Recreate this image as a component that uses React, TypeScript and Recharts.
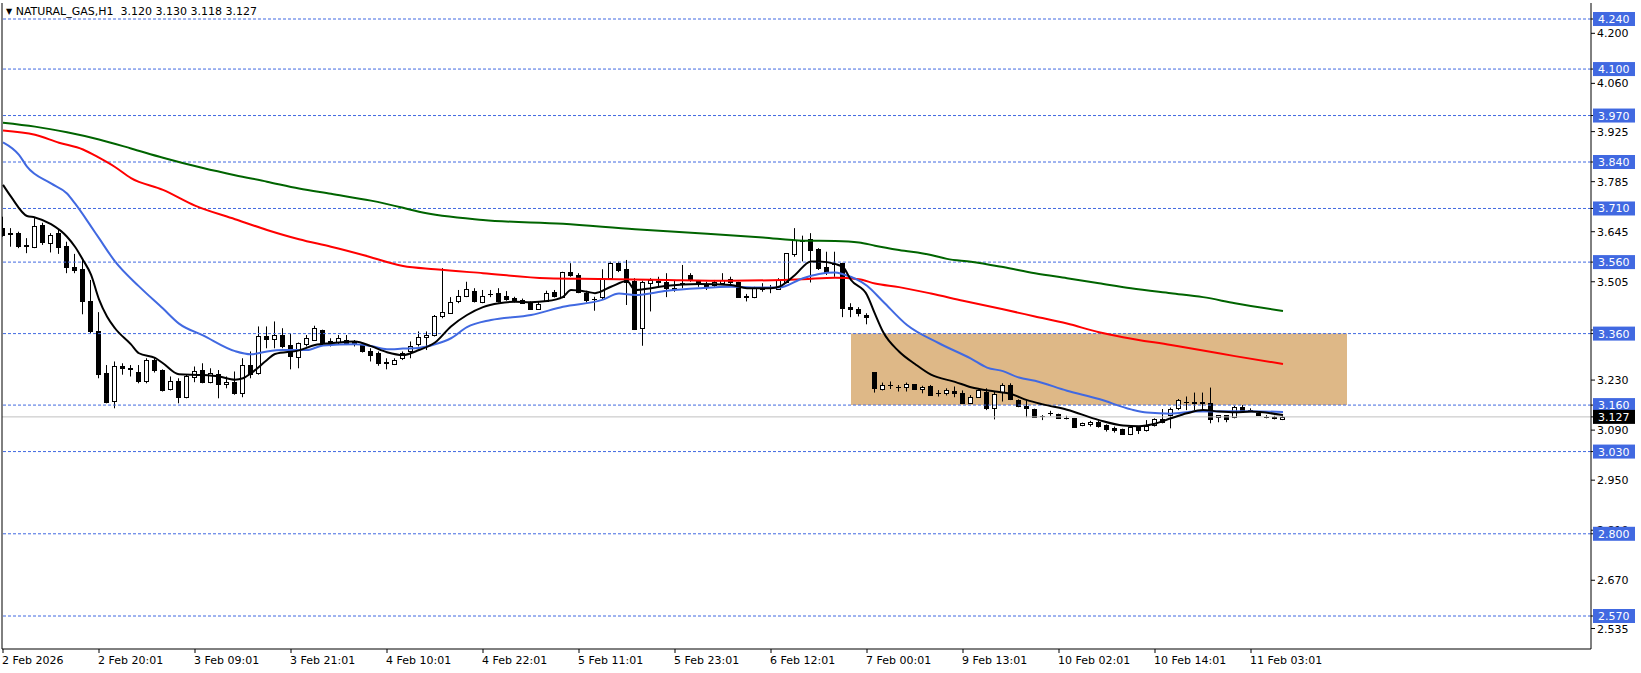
import { ComposedChart, Bar, Line, XAxis, YAxis, ReferenceLine, ReferenceArea } from 'recharts'

// H1 candles, bar 0 = 2 Feb 2026 00:01
const opens = [
  3.655, 3.642, 3.641, 3.607, 3.601, 3.664, 3.613, 3.641, 3.605, 3.546,
  3.540, 3.451, 3.368, 3.249, 3.172, 3.270, 3.263, 3.252, 3.226, 3.286,
  3.258, 3.204, 3.228, 3.182, 3.238, 3.257, 3.224, 3.246, 3.219, 3.224,
  3.193, 3.272, 3.249, 3.352, 3.344, 3.356, 3.327, 3.294, 3.330, 3.342,
  3.370, 3.338, 3.336, 3.342, 3.336, 3.327, 3.310, 3.305, 3.280, 3.274,
  3.291, 3.312, 3.331, 3.350, 3.356, 3.408, 3.417, 3.450, 3.465, 3.480,
  3.447, 3.472, 3.473, 3.466, 3.459, 3.453, 3.445, 3.430, 3.452, 3.475,
  3.462, 3.531, 3.524, 3.473, 3.458, 3.462, 3.515, 3.557, 3.540, 3.507,
  3.375, 3.501, 3.506, 3.505, 3.488, 3.500, 3.524, 3.507, 3.498, 3.496,
  3.501, 3.512, 3.504, 3.464, 3.463, 3.487, 3.487, 3.485, 3.503, 3.583,
  3.619, 3.625, 3.598, 3.545, 3.556, 3.557, 3.435, 3.429, 3.412, 3.252,
  3.205, 3.217, 3.212, 3.212, 3.218, 3.205, 3.214, 3.195, 3.193, 3.200,
  3.193, 3.165, 3.184, 3.198, 3.151, 3.196, 3.216, 3.174, 3.157, 3.149,
  3.130, 3.137, 3.134, 3.125, 3.123, 3.103, 3.107, 3.112, 3.104, 3.097,
  3.092, 3.079, 3.098, 3.090, 3.104, 3.120, 3.132, 3.151, 3.169, 3.168,
  3.170, 3.167, 3.126, 3.131, 3.126, 3.154, 3.147, 3.137, 3.128, 3.126,
  3.120,
]
const highs = [
  3.687, 3.655, 3.645, 3.627, 3.683, 3.670, 3.641, 3.650, 3.617, 3.583,
  3.566, 3.510, 3.420, 3.272, 3.282, 3.277, 3.272, 3.272, 3.291, 3.291,
  3.260, 3.240, 3.235, 3.245, 3.268, 3.277, 3.263, 3.258, 3.240, 3.254,
  3.291, 3.310, 3.380, 3.380, 3.394, 3.375, 3.361, 3.335, 3.356, 3.382,
  3.371, 3.347, 3.356, 3.356, 3.342, 3.328, 3.319, 3.310, 3.291, 3.291,
  3.310, 3.338, 3.366, 3.366, 3.412, 3.543, 3.462, 3.482, 3.505, 3.487,
  3.482, 3.482, 3.487, 3.479, 3.463, 3.458, 3.450, 3.450, 3.480, 3.482,
  3.533, 3.557, 3.529, 3.480, 3.463, 3.540, 3.561, 3.561, 3.566, 3.515,
  3.508, 3.515, 3.519, 3.529, 3.510, 3.552, 3.529, 3.510, 3.505, 3.510,
  3.529, 3.519, 3.505, 3.471, 3.491, 3.501, 3.496, 3.515, 3.585, 3.655,
  3.634, 3.641, 3.599, 3.589, 3.589, 3.558, 3.445, 3.434, 3.417, 3.252,
  3.223, 3.226, 3.216, 3.223, 3.219, 3.214, 3.216, 3.202, 3.207, 3.212,
  3.201, 3.188, 3.204, 3.207, 3.198, 3.221, 3.221, 3.176, 3.174, 3.150,
  3.132, 3.144, 3.136, 3.130, 3.124, 3.111, 3.116, 3.116, 3.106, 3.100,
  3.094, 3.100, 3.100, 3.118, 3.123, 3.149, 3.153, 3.177, 3.184, 3.195,
  3.195, 3.209, 3.132, 3.132, 3.158, 3.160, 3.151, 3.139, 3.132, 3.130,
  3.130,
]
const lows = [
  3.631, 3.603, 3.599, 3.585, 3.599, 3.608, 3.587, 3.583, 3.529, 3.529,
  3.414, 3.361, 3.235, 3.165, 3.151, 3.245, 3.240, 3.221, 3.221, 3.251,
  3.198, 3.201, 3.165, 3.179, 3.224, 3.221, 3.221, 3.179, 3.207, 3.189,
  3.182, 3.235, 3.245, 3.319, 3.319, 3.319, 3.260, 3.263, 3.324, 3.340,
  3.328, 3.324, 3.328, 3.328, 3.324, 3.307, 3.282, 3.270, 3.260, 3.272,
  3.286, 3.291, 3.324, 3.314, 3.352, 3.403, 3.415, 3.445, 3.462, 3.447,
  3.445, 3.462, 3.447, 3.452, 3.447, 3.443, 3.426, 3.428, 3.452, 3.461,
  3.459, 3.519, 3.473, 3.447, 3.424, 3.454, 3.510, 3.532, 3.440, 3.370,
  3.326, 3.422, 3.491, 3.462, 3.477, 3.487, 3.505, 3.491, 3.482, 3.491,
  3.496, 3.491, 3.462, 3.450, 3.459, 3.477, 3.473, 3.482, 3.501, 3.575,
  3.562, 3.503, 3.538, 3.524, 3.519, 3.406, 3.406, 3.408, 3.386, 3.195,
  3.201, 3.205, 3.198, 3.198, 3.204, 3.193, 3.187, 3.184, 3.187, 3.182,
  3.163, 3.163, 3.182, 3.146, 3.120, 3.170, 3.174, 3.154, 3.126, 3.124,
  3.118, 3.130, 3.121, 3.120, 3.099, 3.101, 3.100, 3.097, 3.086, 3.083,
  3.077, 3.076, 3.079, 3.086, 3.100, 3.109, 3.095, 3.146, 3.146, 3.146,
  3.145, 3.109, 3.112, 3.112, 3.123, 3.142, 3.141, 3.130, 3.123, 3.120,
  3.118,
]
const closes = [
  3.636, 3.640, 3.605, 3.605, 3.661, 3.615, 3.636, 3.601, 3.546, 3.538,
  3.450, 3.368, 3.246, 3.170, 3.268, 3.263, 3.260, 3.226, 3.287, 3.257,
  3.203, 3.227, 3.184, 3.240, 3.256, 3.224, 3.249, 3.218, 3.225, 3.193,
  3.272, 3.247, 3.354, 3.346, 3.356, 3.324, 3.298, 3.333, 3.347, 3.377,
  3.333, 3.335, 3.347, 3.333, 3.333, 3.310, 3.299, 3.277, 3.279, 3.286,
  3.305, 3.326, 3.350, 3.356, 3.408, 3.420, 3.447, 3.465, 3.484, 3.452,
  3.466, 3.470, 3.450, 3.457, 3.450, 3.445, 3.430, 3.442, 3.473, 3.466,
  3.531, 3.524, 3.476, 3.454, 3.456, 3.515, 3.557, 3.538, 3.505, 3.372,
  3.504, 3.510, 3.504, 3.487, 3.486, 3.502, 3.510, 3.498, 3.490, 3.505,
  3.510, 3.504, 3.463, 3.463, 3.487, 3.486, 3.488, 3.510, 3.585, 3.622,
  3.621, 3.594, 3.543, 3.533, 3.555, 3.433, 3.428, 3.417, 3.407, 3.207,
  3.215, 3.216, 3.211, 3.218, 3.205, 3.210, 3.188, 3.194, 3.201, 3.193,
  3.167, 3.184, 3.201, 3.151, 3.191, 3.216, 3.176, 3.158, 3.151, 3.126,
  3.129, 3.138, 3.123, 3.124, 3.100, 3.109, 3.114, 3.102, 3.092, 3.090,
  3.079, 3.098, 3.089, 3.102, 3.120, 3.112, 3.149, 3.174, 3.170, 3.167,
  3.165, 3.121, 3.131, 3.121, 3.156, 3.144, 3.146, 3.132, 3.127, 3.125,
  3.127,
]

// moving averages: [bar, price]
const blackMa = [
  [0, 3.776], [1, 3.743], [3, 3.689], [4, 3.685], [6, 3.666], [8, 3.631], [9, 3.603], [10, 3.566],
  [11, 3.525], [12, 3.456], [13, 3.408], [14, 3.375], [16, 3.330], [17, 3.305], [19, 3.292], [20, 3.277],
  [22, 3.246], [25, 3.244], [27, 3.240], [29, 3.231], [30, 3.235], [31, 3.249], [33, 3.286], [34, 3.303],
  [37, 3.313], [39, 3.328], [41, 3.333], [44, 3.338], [46, 3.325], [48, 3.308], [50, 3.300], [52, 3.314],
  [54, 3.335], [56, 3.380], [58, 3.412], [60, 3.434], [62, 3.445], [64, 3.449], [66, 3.448], [68, 3.451],
  [70, 3.463], [71, 3.482], [73, 3.477], [74, 3.473], [76, 3.491], [78, 3.507], [79, 3.482], [81, 3.487],
  [83, 3.494], [87, 3.499], [91, 3.496], [93, 3.487], [96, 3.487], [97, 3.491], [99, 3.524], [101, 3.562],
  [102, 3.562], [104, 3.555], [105, 3.546], [106, 3.510], [108, 3.468], [109, 3.415], [110, 3.365], [112, 3.310],
  [114, 3.275], [116, 3.245], [119, 3.225], [121, 3.210], [124, 3.198], [126, 3.191], [128, 3.174], [130, 3.162],
  [133, 3.147], [137, 3.118], [140, 3.103], [142, 3.101], [144, 3.108], [146, 3.123], [148, 3.137], [150, 3.146],
  [152, 3.142], [154, 3.140], [156, 3.142], [160, 3.132],
]
const blueMa = [
  [0, 3.895], [2, 3.860], [3, 3.827], [6, 3.780], [8, 3.752], [9, 3.724], [11, 3.660], [12, 3.627],
  [14, 3.562], [17, 3.492], [20, 3.430], [22, 3.388], [25, 3.355], [29, 3.311], [31, 3.302], [33, 3.310],
  [35, 3.314], [38, 3.314], [40, 3.327], [44, 3.330], [46, 3.325], [48, 3.316], [50, 3.318], [52, 3.320],
  [54, 3.330], [56, 3.347], [58, 3.378], [61, 3.398], [66, 3.412], [70, 3.435], [75, 3.455], [77, 3.472],
  [79, 3.468], [83, 3.480], [87, 3.487], [91, 3.491], [95, 3.489], [97, 3.489], [100, 3.515], [102, 3.527],
  [104, 3.531], [105, 3.526], [108, 3.494], [110, 3.450], [113, 3.384], [117, 3.333], [121, 3.290], [123, 3.265],
  [125, 3.255], [127, 3.237], [129, 3.228], [133, 3.200], [137, 3.177], [141, 3.148], [143, 3.139], [146, 3.136],
  [149, 3.142], [154, 3.143], [160, 3.141],
]
const redMa = [
  [0, 3.928], [4, 3.916], [7, 3.894], [10, 3.875], [12, 3.852], [14, 3.826], [16, 3.795], [20, 3.762],
  [24, 3.718], [29, 3.680], [33, 3.650], [37, 3.624], [41, 3.603], [45, 3.580], [50, 3.549], [54, 3.540],
  [60, 3.529], [68, 3.515], [75, 3.513], [83, 3.510], [91, 3.508], [100, 3.512], [104, 3.516], [107, 3.512],
  [109, 3.500], [112, 3.490], [116, 3.472], [120, 3.452], [125, 3.428], [129, 3.408], [133, 3.388], [137, 3.364],
  [140, 3.350], [146, 3.328], [150, 3.313], [154, 3.297], [160, 3.275],
]
const greenMa = [
  [0, 3.950], [4, 3.939], [8, 3.923], [12, 3.903], [16, 3.878], [20, 3.852], [25, 3.823], [29, 3.803],
  [33, 3.785], [37, 3.766], [41, 3.751], [46, 3.732], [50, 3.712], [52, 3.701], [60, 3.678], [70, 3.667],
  [79, 3.652], [87, 3.641], [95, 3.629], [100, 3.620], [104, 3.619], [107, 3.615], [109, 3.606], [112, 3.594],
  [116, 3.580], [118, 3.569], [121, 3.561], [125, 3.546], [129, 3.529], [133, 3.515], [137, 3.501], [141, 3.487],
  [146, 3.473], [150, 3.462], [154, 3.445], [160, 3.423],
]

const levels = [4.24, 4.1, 3.97, 3.84, 3.71, 3.56, 3.36, 3.16, 3.03, 2.8, 2.57]
const lastPrice = 3.127
const zone = { fromBar: 106, toBar: 168, top: 3.36, bottom: 3.16 }

const priceTicks = [4.2, 4.06, 3.925, 3.785, 3.645, 3.505, 3.37, 3.23, 3.09, 2.95, 2.81, 2.67, 2.535]
// hidden behind the 3.360 tag in the original
const coveredTicks = [3.37]
const timeLabels = [
  '2 Feb 2026', '2 Feb 20:01', '3 Feb 09:01', '3 Feb 21:01', '4 Feb 10:01', '4 Feb 22:01', '5 Feb 11:01',
  '5 Feb 23:01', '6 Feb 12:01', '7 Feb 00:01', '9 Feb 13:01', '10 Feb 02:01', '10 Feb 14:01', '11 Feb 03:01',
]
const barsPerLabel = 12
const timeTicks = timeLabels.map((_, n) => n * barsPerLabel)

const candles = opens.map((o, i) => ({ i, open: o, high: highs[i], low: lows[i], close: closes[i] }))
const toRows = (pts: number[][]) => pts.map(([i, v]) => ({ i, v }))

const FONT = 'DejaVu Sans'

const Candle = (props: any) => {
  const { x, y, width, height, payload } = props
  const { open, close, high, low } = payload
  const top = Math.min(y, y + height)
  const h = Math.abs(height)
  const toY = (p: number) => (high === low ? top : top + ((high - p) / (high - low)) * h)
  const cx = Math.floor(x + width / 2) + 0.5
  const bTop = Math.round(toY(Math.max(open, close))) + 0.5
  const bBot = Math.max(Math.round(toY(Math.min(open, close))) + 0.5, bTop)
  const up = close >= open
  return (
    <g>
      <line x1={cx} x2={cx} y1={top} y2={top + h} stroke="#000" strokeWidth={1} />
      {bBot - bTop < 1 ? (
        <line x1={cx - 2.5} x2={cx + 2.5} y1={bTop} y2={bTop} stroke="#000" strokeWidth={1} />
      ) : (
        <rect x={cx - 2} y={bTop} width={4} height={bBot - bTop} fill={up ? '#fff' : '#000'} stroke="#000" strokeWidth={1} />
      )}
    </g>
  )
}

const XTick = ({ x, y, payload }: any) => (
  <text x={x - 1} y={y + 9} fontSize={11} fontFamily={FONT} fill="#000" textAnchor="start">
    {timeLabels[Math.round(payload.value / barsPerLabel)]}
  </text>
)

// price labels first, then the level tags so the tags sit on top
const YTick = ({ x, y, payload }: any) => {
  const v = payload.value
  const isLevel = levels.includes(v)
  const isLast = v === lastPrice
  if (isLevel || isLast) {
    const bx = x - 4
    return (
      <g>
        <rect x={bx} y={y - 7} width={42} height={14} fill={isLast ? '#000' : '#4169E1'} />
        <text x={bx + 5} y={y + 4} fontSize={11} fontFamily={FONT} fill="#fff">{v.toFixed(3)}</text>
      </g>
    )
  }
  if (coveredTicks.includes(v)) return <g />
  return (
    <text x={x} y={y} dy={4} fontSize={11} fontFamily={FONT} fill="#000" textAnchor="start">
      {v.toFixed(3)}
    </text>
  )
}

export default function App() {
  return (
    <div style={{ position: 'relative', width: 1641, height: 673, background: '#fff' }}>
      <style>{'body{margin:0}'}</style>
      <ComposedChart width={1641} height={673} data={candles} margin={{ top: 3, right: 0, bottom: 0, left: 0 }}>
        <XAxis
          dataKey="i"
          type="number"
          domain={[-0.125, 198.5]}
          allowDataOverflow
          ticks={timeTicks}
          interval={0}
          tick={<XTick />}
          tickSize={4}
          tickLine={{ stroke: '#000' }}
          axisLine={{ stroke: '#000' }}
          height={24}
        />
        <YAxis
          orientation="right"
          type="number"
          domain={[2.4777, 4.2848]}
          allowDataOverflow
          ticks={[...priceTicks, ...levels, lastPrice]}
          interval={0}
          tick={<YTick />}
          tickSize={4}
          tickMargin={2}
          tickLine={{ stroke: '#000' }}
          axisLine={{ stroke: '#000' }}
          width={50}
        />
        <YAxis yAxisId="frame" orientation="left" width={2} tick={false} tickLine={false} axisLine={{ stroke: '#000' }} />
        <ReferenceArea x1={zone.fromBar} x2={zone.toBar} y1={zone.bottom} y2={zone.top} fill="#DEB887" fillOpacity={1} stroke="none" ifOverflow="hidden" />
        <ReferenceLine y={lastPrice} stroke="#C0C0C0" strokeWidth={1} />
        {levels.map((lv) => (
          <ReferenceLine key={lv} y={lv} stroke="#4169E1" strokeDasharray="3 2" strokeWidth={1} />
        ))}
        <Bar dataKey={(d: any) => [d.low, d.high]} barSize={5} shape={<Candle />} isAnimationActive={false} />
        <Line data={toRows(greenMa)} dataKey="v" type="monotone" stroke="#006400" strokeWidth={2} dot={false} activeDot={false} isAnimationActive={false} />
        <Line data={toRows(redMa)} dataKey="v" type="monotone" stroke="#FF0000" strokeWidth={2} dot={false} activeDot={false} isAnimationActive={false} />
        <Line data={toRows(blueMa)} dataKey="v" type="monotone" stroke="#4169E1" strokeWidth={2} dot={false} activeDot={false} isAnimationActive={false} />
        <Line data={toRows(blackMa)} dataKey="v" type="monotone" stroke="#000" strokeWidth={2} dot={false} activeDot={false} isAnimationActive={false} />
      </ComposedChart>
      <div style={{ position: 'absolute', left: 6, top: 5, fontFamily: FONT, fontSize: 11, color: '#000', whiteSpace: 'pre', lineHeight: '14px' }}>
        <span style={{ fontSize: 8, verticalAlign: 1 }}>▼</span> NATURAL_GAS,H1  3.120 3.130 3.118 3.127
      </div>
    </div>
  )
}
